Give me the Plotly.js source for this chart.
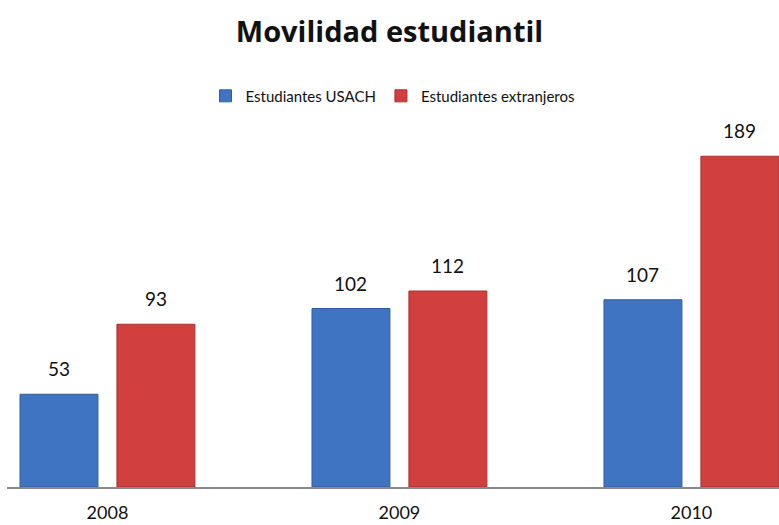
<!DOCTYPE html>
<html><head><meta charset="utf-8">
<script src="https://cdn.plot.ly/plotly-3.0.1.min.js"></script>
<style>html,body{margin:0;padding:0;background:#fff}#c{width:779px;height:525px}</style>
</head><body><div id="c"></div>
<script>
const years = ['2008', '2009', '2010'];
const usach = [53, 102, 107];
const extranjeros = [93, 112, 189];
const seriesNames = ['Estudiantes USACH', 'Estudiantes extranjeros'];

const font = 'Lato, "Open Sans", sans-serif';
const traces = [
  {type:'bar', name:seriesNames[0], x:years, y:usach,
   marker:{color:'#3f74c2', line:{color:'#2f5c9e', width:1}}},
  {type:'bar', name:seriesNames[1], x:years, y:extranjeros,
   marker:{color:'#d13f3f', line:{color:'#a83030', width:1}}}
];
const slot = 97/292/2;
const annotations = [];
[usach, extranjeros].forEach((vals, s) => {
  vals.forEach((v, j) => {
    annotations.push({x: j + (s === 0 ? -slot : slot), y: v, xref:'x', yref:'y',
      text: String(v), showarrow:false, yanchor:'bottom', yshift:12,
      font:{family:font, size:19, color:'#111'}});
  });
});
const layout = {
  width:779, height:525,
  margin:{l:7, r:0, t:130, b:38},
  paper_bgcolor:'#fff', plot_bgcolor:'#fff',
  title:{text:'<b>Movilidad estudiantil</b>', x:0.5, xanchor:'center', y:0.94, yanchor:'middle',
         font:{family:'"Open Sans", sans-serif', size:29, color:'#111'}},
  showlegend:true,
  legend:{orientation:'h', x:0.5, xanchor:'center', y:1.095, yanchor:'middle',
          font:{family:font, size:15, color:'#111'}, itemwidth:30, traceorder:'normal'},
  barmode:'group', bargap:0.336, bargroupgap:0.196,
  xaxis:{type:'category', range:[-0.344, 2.30], showline:true, linecolor:'#8a8a8a', linewidth:1.5,
         ticks:'', ticklabelstandoff:9, tickfont:{family:font, size:18, color:'#111'}, showgrid:false, zeroline:false, fixedrange:true},
  yaxis:{range:[0, 204], visible:false, showgrid:false, zeroline:false},
  annotations: annotations
};
Plotly.newPlot('c', traces, layout, {displayModeBar:false, staticPlot:true});
</script></body></html>
